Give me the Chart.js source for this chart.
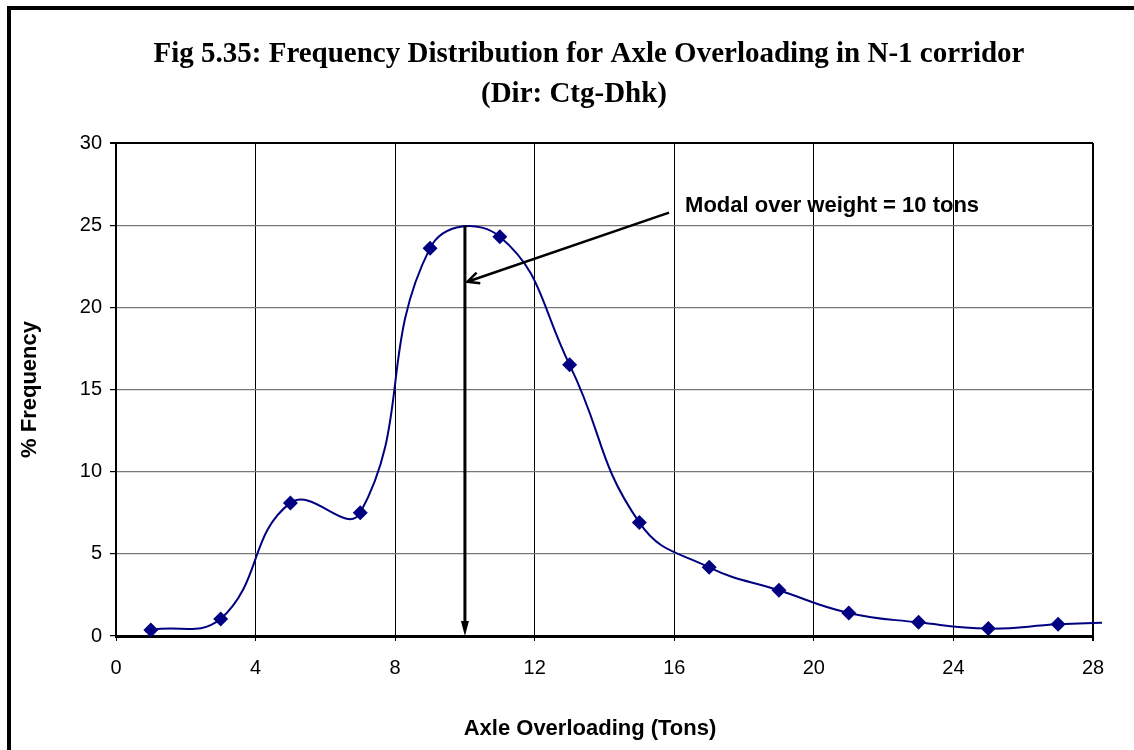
<!DOCTYPE html>
<html>
<head>
<meta charset="utf-8">
<title>Axle Overloading - N-1 corridor</title>
<script src="https://cdn.jsdelivr.net/npm/chart.js@4.4.1/dist/chart.umd.min.js"></script>
<style>
  html, body { margin: 0; padding: 0; background: #fff; overflow: hidden; }
  canvas { display: block; }
</style>
</head>
<body>
<canvas id="canvas" width="1134" height="750"></canvas>
<script>
// axle overloading (tons) vs % frequency, Ctg-Dhk direction
var overloading = [1, 3, 5, 7, 9, 11, 13, 15, 17, 19, 21, 23, 25, 27, 29];
var frequency = [0.37, 1.03, 8.1, 7.5, 23.6, 24.3, 16.5, 6.9, 4.18, 2.78, 1.4, 0.83, 0.45, 0.71, 0.85];
var xTicks = [0, 4, 8, 12, 16, 20, 24, 28];
var yTicks = [0, 5, 10, 15, 20, 25, 30];

var titleLines = [
  "Fig 5.35: Frequency Distribution for Axle Overloading in N-1 corridor",
  "(Dir: Ctg-Dhk)"
];
var xTitle = "Axle Overloading (Tons)";
var yTitle = "% Frequency";

// modal marker and its note
var modalWeight = 10;
var modalPeak = 25;
var noteText = "Modal over weight = 10 tons";
var notePos = [16.31, 26.17];
var noteFrom = [15.85, 25.76];
var noteTo = [10.07, 21.56];

var navy = "#000080";
var sans = "'Liberation Sans', Arial, sans-serif";

document.addEventListener("DOMContentLoaded", function () {
  var ctx = document.getElementById("canvas");

  // outer border, heading and x axis caption
  var frame = {
    id: "frame",
    beforeDraw: function (chart) {
      var c = chart.ctx;
      c.save();
      c.fillStyle = "#fff";
      c.fillRect(0, 0, chart.width, chart.height);
      c.fillStyle = "#000";
      c.fillRect(7, 6, chart.width - 7, 4);
      c.fillRect(7, 6, 4, chart.height - 6);

      c.textAlign = "center";
      c.textBaseline = "middle";
      c.font = "bold 29px 'Liberation Serif', 'Times New Roman', serif";
      c.fillText(titleLines[0], 589, 55);
      c.fillText(titleLines[1], 574, 95);

      c.font = "bold 22px " + sans;
      c.fillText(xTitle, 590, 729);
      c.restore();
    }
  };

  var arrows = {
    id: "arrows",
    afterDatasetsDraw: function (chart) {
      var x = chart.scales.x, y = chart.scales.y, c = chart.ctx;
      c.save();

      // vertical line down from the peak
      var mx = x.getPixelForValue(modalWeight);
      var top = y.getPixelForValue(modalPeak);
      var base = y.getPixelForValue(0);
      c.strokeStyle = "#000";
      c.fillStyle = "#000";
      c.lineWidth = 3;
      c.beginPath();
      c.moveTo(mx, top);
      c.lineTo(mx, base - 12);
      c.stroke();
      c.beginPath();
      c.moveTo(mx, base);
      c.lineTo(mx - 4, base - 15);
      c.lineTo(mx + 4, base - 15);
      c.closePath();
      c.fill();

      // note arrow
      var x1 = x.getPixelForValue(noteFrom[0]), y1 = y.getPixelForValue(noteFrom[1]);
      var x2 = x.getPixelForValue(noteTo[0]), y2 = y.getPixelForValue(noteTo[1]);
      var ang = Math.atan2(y2 - y1, x2 - x1);
      c.lineWidth = 2.5;
      c.beginPath();
      c.moveTo(x1, y1);
      c.lineTo(x2, y2);
      c.moveTo(x2 - 13 * Math.cos(ang - 0.45), y2 - 13 * Math.sin(ang - 0.45));
      c.lineTo(x2, y2);
      c.lineTo(x2 - 13 * Math.cos(ang + 0.45), y2 - 13 * Math.sin(ang + 0.45));
      c.stroke();

      c.font = "bold 22px " + sans;
      c.textAlign = "left";
      c.textBaseline = "middle";
      c.fillText(noteText, x.getPixelForValue(notePos[0]), y.getPixelForValue(notePos[1]));
      c.restore();
    }
  };

  var chart = new Chart(ctx, {
    type: "line",
    data: {
      datasets: [
        {
          label: yTitle,
          data: overloading.map(function (v, i) {
            return { x: v, y: frequency[i] };
          }),
          borderColor: navy,
          backgroundColor: navy,
          borderWidth: 2,
          tension: 0.45,
          fill: false,
          pointStyle: "rectRot",
          pointRadius: 7.5,
          pointBorderWidth: 0,
          clip: { left: 0, top: 0, right: 9, bottom: 8 }
        }
      ]
    },
    options: {
      responsive: false,
      devicePixelRatio: 1,
      animation: false,
      layout: { padding: { left: 0, right: 41, top: 143, bottom: 0 } },
      plugins: {
        legend: { display: false },
        tooltip: { enabled: false },
        title: { display: false }
      },
      scales: {
        x: {
          type: "linear",
          min: 0,
          max: 28,
          afterBuildTicks: function (scale) {
            scale.ticks = xTicks.map(function (v) { return { value: v }; });
          },
          afterFit: function (scale) { scale.height = 114; },
          ticks: {
            color: "#000",
            padding: 15,
            font: { family: sans, size: 20 }
          },
          grid: {
            color: "#000",
            lineWidth: function (c) { return c.tick && c.tick.value === 28 ? 2 : 1; },
            tickLength: 5,
            tickColor: "#000"
          },
          border: { color: "#000", width: 3 }
        },
        y: {
          min: 0,
          max: 30,
          afterBuildTicks: function (scale) {
            scale.ticks = yTicks.map(function (v) { return { value: v }; });
          },
          afterFit: function (scale) { scale.width = 116; },
          ticks: {
            color: "#000",
            padding: 8,
            font: { family: sans, size: 20 }
          },
          grid: {
            color: function (c) { return c.tick && c.tick.value === 30 ? "#000" : "#777"; },
            lineWidth: function (c) { return c.tick && c.tick.value === 30 ? 2 : 1.2; },
            tickLength: 6,
            tickColor: "#000"
          },
          border: { color: "#000", width: 2 },
          title: {
            display: true,
            text: yTitle,
            color: "#000",
            font: { family: sans, size: 22, weight: "bold", lineHeight: 1.2 },
            padding: { top: 17, bottom: 17 }
          }
        }
      }
    },
    plugins: [frame, arrows]
  });
});
</script>
</body>
</html>
